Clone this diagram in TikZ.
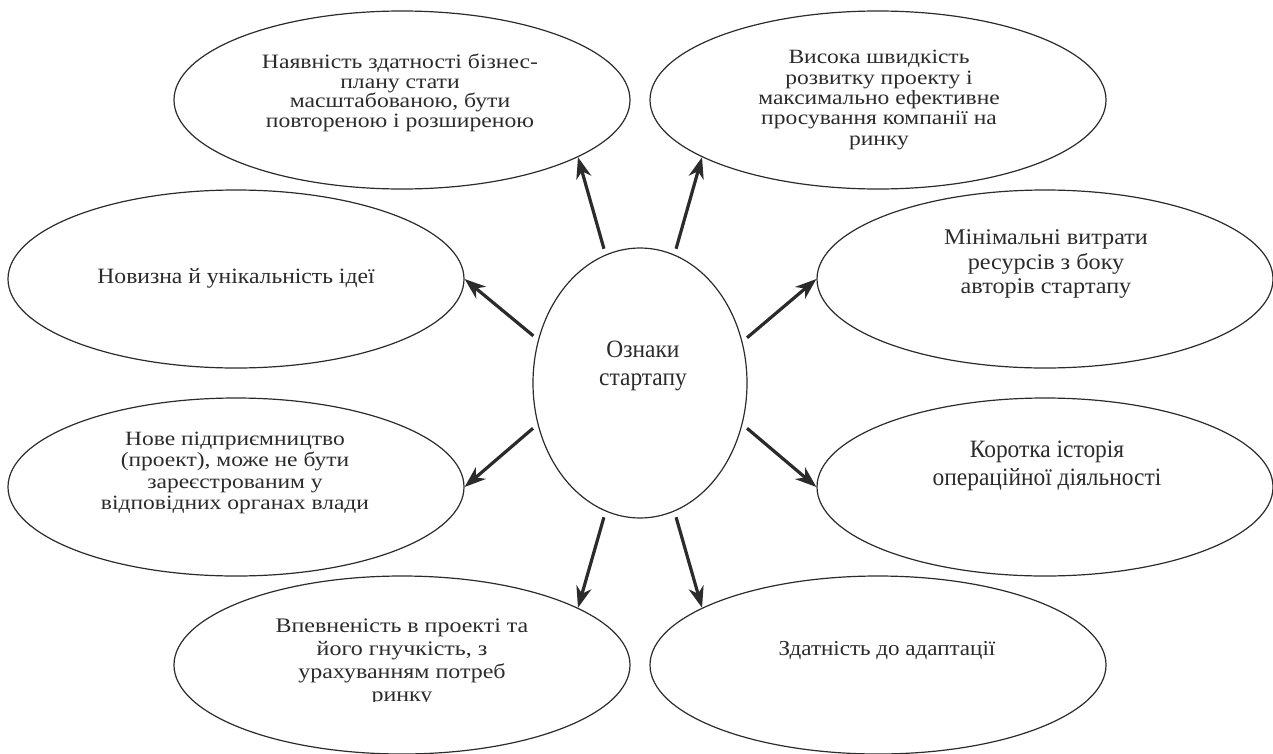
\documentclass[tikz,border=0pt]{standalone}
\usepackage{fontspec}
\setmainfont{Liberation Serif}
% the same serif face at three horizontal widths
\newfontfamily\serifwide[FakeStretch=1.16]{Liberation Serif}
\newfontfamily\serifmid[FakeStretch=1.08]{Liberation Serif}
\newfontfamily\serifnarrow[FakeStretch=0.94]{Liberation Serif}
\usetikzlibrary{shapes.geometric,arrows.meta}
\definecolor{ink}{HTML}{2B2B2B}
\tikzset{
  oval/.style={ellipse, draw=ink, line width=0.9pt, inner sep=0pt,
    minimum width=342pt, minimum height=133.5pt},
  hub/.style={ellipse, draw=ink, line width=0.9pt, inner sep=0pt,
    minimum width=160.5pt, minimum height=202.5pt},
  txt/.style={align=center, text=ink, inner sep=0pt},
  arr/.style={draw=ink, line width=2.4pt, shorten <=4.5pt,
    -{Stealth[length=16pt, width=11.5pt, inset=5pt]}},
}
\newcommand{\fs}[2]{\fontsize{#1}{#2}\selectfont}
\begin{document}
\begin{tikzpicture}[x=0.75pt, y=-0.75pt]
\useasboundingbox (0,0) rectangle (1273,753);

% central node and the eight features around it
\node[hub]  (c)  at (640,383) {};
\node[oval] (e1) at (402,100) {};
\node[oval] (e2) at (878,100) {};
\node[oval] (e3) at (236,279) {};
\node[oval] (e4) at (1045,279) {};
\node[oval] (e5) at (236,487) {};
\node[oval] (e6) at (1045,487) {};
\node[oval] (e7) at (402,665) {};
\node[oval] (e8) at (878,665) {};

% labels
\node[txt, font=\serifnarrow\fs{18.7pt}{21pt}] (ct) at (643,366) {Ознаки\\стартапу};
\node[txt, font=\serifwide\fs{15.3pt}{14.6pt}] (t1) at (400,93)
  {Наявність здатності бізнес-\\плану стати\\масштабованою, бути\\повтореною і розширеною};
\node[txt, font=\serifwide\fs{15.2pt}{15.2pt}] (t2) at (879,100)
  {Висока швидкість\\розвитку проекту і\\максимально ефективне\\просування компанії на\\ринку};
\node[txt, font=\serifmid\fs{16.4pt}{17pt}] (t3) at (236,278) {Новизна й унікальність ідеї};
\node[txt, font=\serifmid\fs{16.8pt}{18.4pt}] (t4) at (1046,264)
  {Мінімальні витрати\\ресурсів з боку\\авторів стартапу};
\node[txt, font=\serifwide\fs{15.2pt}{16.1pt}] (t5) at (235,473)
  {Нове підприємництво\\(проект), може не бути\\зареєстрованим у\\відповідних органах влади};
\node[txt, font=\serifnarrow\fs{18.7pt}{21pt}] (t6) at (1047,466)
  {Коротка історія\\операційної діяльності};
\begin{scope}
  \clip (250,600) rectangle (560,701);
  \node[txt, font=\serifwide\fs{15.5pt}{17.25pt}] (t7) at (402,662)
    {Впевненість в проекті та\\його гнучкість, з\\урахуванням потреб\\ринку};
\end{scope}
\node[txt, font=\serifmid\fs{16pt}{18pt}] (t8) at (887,650) {Здатність до адаптації};

% arrows from the hub to each feature
\draw[arr] (c.105)   -- (e1.-18);
\draw[arr] (c.75)    -- (e2.198);
\draw[arr] (c.157.6) -- (e3.0);
\draw[arr] (c.22.4)  -- (e4.180);
\draw[arr] (c.202.4) -- (e5.0);
\draw[arr] (c.-22.4) -- (e6.180);
\draw[arr] (c.255)   -- (e7.18);
\draw[arr] (c.285)   -- (e8.162);
\end{tikzpicture}
\end{document}
